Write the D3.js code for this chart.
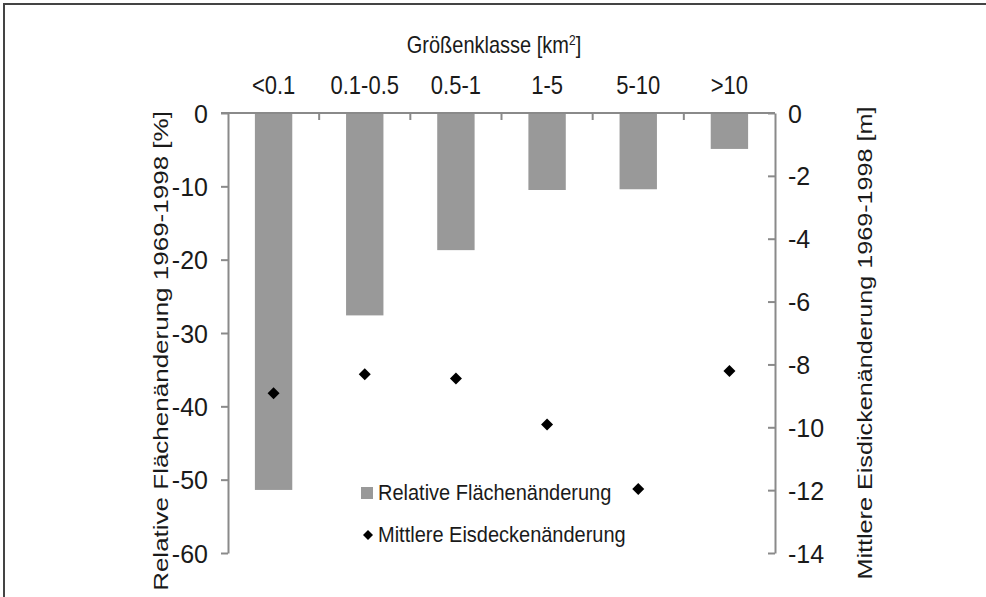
<!DOCTYPE html>
<html>
<head>
<meta charset="utf-8">
<script src="https://cdn.jsdelivr.net/npm/d3@7"></script>
<style>
  body { margin: 0; background: #fff; }
  svg text { font-family: "Liberation Sans", Arial, sans-serif; fill: #1a1a1a; }
</style>
</head>
<body>
<svg id="chart" width="986" height="597"></svg>
<script>
// data
var categories = ["<0.1", "0.1-0.5", "0.5-1", "1-5", "5-10", ">10"];
var areaChange = [-51.4, -27.6, -18.7, -10.5, -10.4, -4.9];      // %
var thickChange = [-8.92, -8.31, -8.45, -9.91, -11.96, -8.21];   // m
var leftTicks = [0, -10, -20, -30, -40, -50, -60];
var rightTicks = [0, -2, -4, -6, -8, -10, -12, -14];

(function() {
var svg = d3.select("#chart");
var pLeft = 228, pRight = 775, pTop = 113, pBottom = 553;
var axisColor = "#8a8a8a";
var fs = 20;
var stretch = 1.2; // the picture's glyphs are a bit taller than wide

// outer frame
svg.append("rect")
  .attr("x", 4).attr("y", 4).attr("width", 990).attr("height", 600)
  .attr("fill", "none").attr("stroke", "#444").attr("stroke-width", 2);

var x = d3.scaleBand().domain(categories).range([pLeft, pRight]).paddingInner(0.59).paddingOuter(0.295);
var xBand = d3.scaleBand().domain(categories).range([pLeft, pRight]);
var yL = d3.scaleLinear().domain([0, -60]).range([pTop, pBottom]);
var yR = d3.scaleLinear().domain([0, -14]).range([pTop, pBottom]);

// bars
svg.selectAll("rect.bar").data(areaChange).enter().append("rect")
  .attr("class", "bar")
  .attr("x", function(d, i){ return x(categories[i]); })
  .attr("width", x.bandwidth())
  .attr("y", yL(0))
  .attr("height", function(d){ return yL(d) - yL(0); })
  .attr("fill", "#999");

var fmt = function(d){ return String(d); };
// left axis
var gL = svg.append("g").attr("transform", "translate(" + pLeft + ",0)")
  .call(d3.axisLeft(yL).tickValues(leftTicks).tickFormat(fmt).tickSize(7).tickPadding(13).tickSizeOuter(0));
// right axis (ticks point inward, labels outside)
var gR = svg.append("g").attr("transform", "translate(" + pRight + ",0)")
  .call(d3.axisRight(yR).tickValues(rightTicks).tickFormat(fmt).tickSize(7).tickPadding(6).tickSizeOuter(0));
[gL, gR].forEach(function(g){
  g.select(".domain").attr("stroke", axisColor).attr("stroke-width", 2);
  g.selectAll(".tick line").attr("stroke", axisColor).attr("stroke-width", 2);
  g.selectAll(".tick text")
    .attr("font-size", 25)
    .attr("font-family", "Liberation Sans, Arial, sans-serif")
    .attr("fill", "#1a1a1a")
    .attr("dy", "0.36em");
});
gR.selectAll(".tick line").attr("x2", -7);

// zero line with category ticks
svg.append("line")
  .attr("x1", pLeft - 7).attr("x2", pRight)
  .attr("y1", yL(0)).attr("y2", yL(0))
  .attr("stroke", axisColor).attr("stroke-width", 2);
svg.selectAll("line.ctick").data(categories.slice(1)).enter().append("line")
  .attr("class", "ctick")
  .attr("x1", function(d){ return xBand(d); }).attr("x2", function(d){ return xBand(d); })
  .attr("y1", yL(0)).attr("y2", yL(0) + 7)
  .attr("stroke", axisColor).attr("stroke-width", 2);

// category labels on top
svg.selectAll("text.cat").data(categories).enter().append("text")
  .attr("class", "cat")
  .attr("transform", function(d){
    return "translate(" + (xBand(d) + xBand.bandwidth() / 2) + ",94) scale(1," + stretch + ")";
  })
  .attr("text-anchor", "middle")
  .attr("font-size", 22)
  .text(function(d){ return d; });

// title
var t = svg.append("text")
  .attr("transform", "translate(494,53) scale(1," + stretch + ")")
  .attr("text-anchor", "middle").attr("font-size", fs);
t.append("tspan").text("Größenklasse [km");
t.append("tspan").attr("font-size", 12).attr("dy", -7).text("2");
t.append("tspan").attr("dy", 7).text("]");

// axis titles
svg.append("text")
  .attr("transform", "translate(168,351) rotate(-90) scale(1.3,1)")
  .attr("text-anchor", "middle").attr("font-size", fs)
  .text("Relative Flächenänderung 1969-1998 [%]");
svg.append("text")
  .attr("transform", "translate(872,343) rotate(-90) scale(1.26,1)")
  .attr("text-anchor", "middle").attr("font-size", fs)
  .text("Mittlere Eisdickenänderung 1969-1998 [m]");

// diamonds
var diamond = d3.symbol().type(d3.symbolSquare).size(72);
svg.selectAll("path.pt").data(thickChange).enter().append("path")
  .attr("class", "pt")
  .attr("d", diamond)
  .attr("transform", function(d, i){
    return "translate(" + (xBand(categories[i]) + xBand.bandwidth() / 2) + "," + yR(d) + ") rotate(45)";
  })
  .attr("fill", "#000");

// legend
svg.append("rect").attr("x", 361).attr("y", 487).attr("width", 12).attr("height", 12).attr("fill", "#999");
svg.append("text").attr("transform", "translate(378,500) scale(1,1.08)").attr("font-size", fs).text("Relative Flächenänderung");
svg.append("path").attr("d", d3.symbol().type(d3.symbolSquare).size(50))
  .attr("transform", "translate(368,535) rotate(45)").attr("fill", "#000");
svg.append("text").attr("transform", "translate(378,542) scale(1,1.08)").attr("font-size", fs).text("Mittlere Eisdeckenänderung");
})();
</script>
</body>
</html>
